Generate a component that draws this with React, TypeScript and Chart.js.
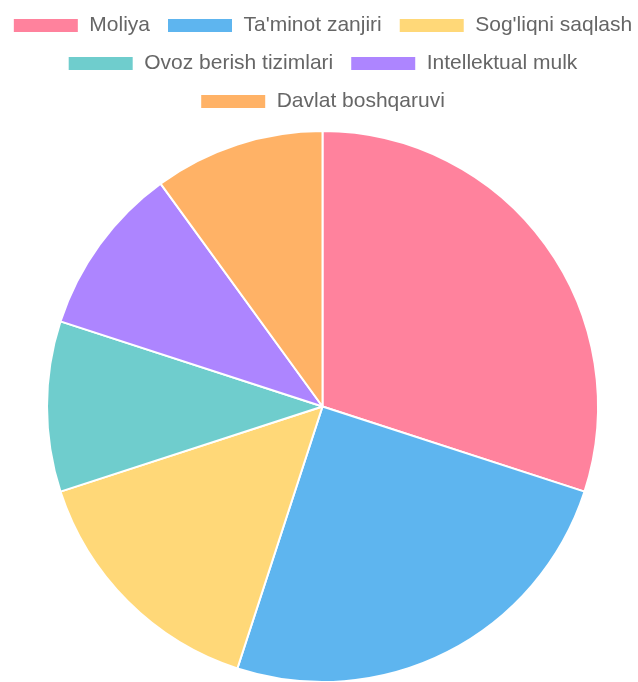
import React, { useEffect, useRef } from "react";
import { Chart, registerables } from "chart.js";

Chart.register(...registerables);

const categories: string[] = [
  "Moliya",
  "Ta'minot zanjiri",
  "Sog'liqni saqlash",
  "Ovoz berish tizimlari",
  "Intellektual mulk",
  "Davlat boshqaruvi",
];

const shares: number[] = [30, 25, 15, 10, 10, 10];

const sliceColors: string[] = [
  "rgba(255, 99, 132, 0.8)",
  "rgba(54, 162, 235, 0.8)",
  "rgba(255, 206, 86, 0.8)",
  "rgba(75, 192, 192, 0.8)",
  "rgba(153, 102, 255, 0.8)",
  "rgba(255, 159, 64, 0.8)",
];

const legendGap = {
  id: "legendGap",
  beforeInit(chart: any) {
    const legend = chart.legend;
    if (!legend) return;
    const origFit = legend.fit;
    legend.fit = function () {
      origFit.call(this);
      this.height += 8;
    };
  },
};

export default function App() {
  const canvasRef = useRef<HTMLCanvasElement | null>(null);

  useEffect(() => {
    if (!canvasRef.current) return;
    const chart = new Chart(canvasRef.current, {
      type: "pie",
      data: {
        labels: categories,
        datasets: [
          {
            data: shares,
            backgroundColor: sliceColors,
            borderColor: "#ffffff",
            borderWidth: 2,
          },
        ],
      },
      options: {
        animation: false,
        responsive: true,
        maintainAspectRatio: false,
        layout: { padding: 0 },
        plugins: {
          legend: {
            display: true,
            position: "top",
            labels: {
              color: "#666666",
              font: { family: "'Liberation Sans', Arial, sans-serif", size: 21 },
              boxWidth: 66,
              boxHeight: 15,
              padding: 17,
            },
          },
          tooltip: { enabled: false },
        },
      },
      plugins: [legendGap],
    });
    return () => chart.destroy();
  }, []);

  return (
    <div
      style={{
        position: "fixed",
        left: 0,
        top: 0,
        width: 638,
        height: 682,
        overflow: "hidden",
        background: "#ffffff",
      }}
    >
      <div
        style={{
          position: "absolute",
          left: -6,
          top: -2,
          width: 657,
          height: 685,
        }}
      >
        <canvas ref={canvasRef} />
      </div>
    </div>
  );
}
